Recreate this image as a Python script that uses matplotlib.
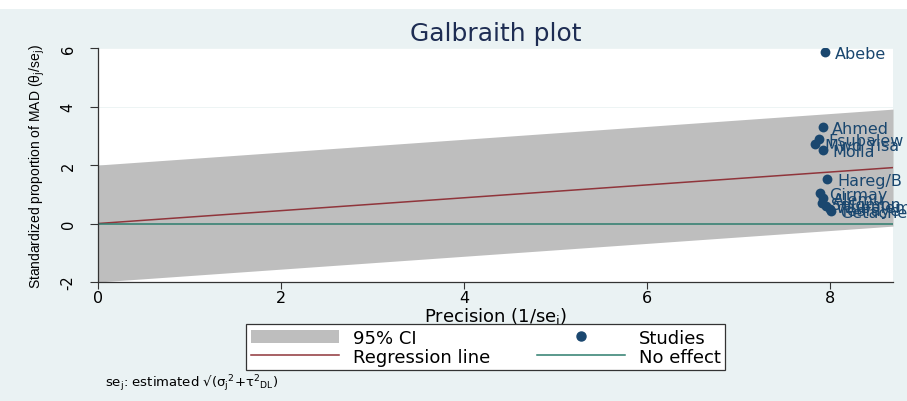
import numpy as np
import matplotlib.pyplot as plt
from matplotlib.patches import Patch, Rectangle
from matplotlib.lines import Line2D

plt.rcParams["axes.unicode_minus"] = False
plt.rcParams["font.family"] = "DejaVu Sans"

# study data
studies = ["Abebe", "Ahmed", "Fsubalew", "Mwd Yisa", "Molla", "Hareg/B",
           "Girmay", "Alemu", "Solomon", "Wubalem", "Tesfaye", "Getachew"]
precision = [7.95, 7.92, 7.88, 7.84, 7.92, 7.97, 7.89, 7.93, 7.91, 7.96, 8.00, 8.01]
z_score = [5.86, 3.30, 2.89, 2.72, 2.51, 1.52, 1.04, 0.87, 0.70, 0.60, 0.50, 0.43]

slope = 0.22      # regression line through origin
band = 2.0        # +/- 2 around the regression line
x_max = 8.69

bg = "#EAF2F3"
navy = "#1A476F"

fig = plt.figure(figsize=(9.07, 4.02), dpi=100, facecolor=bg)
fig.patches.append(Rectangle((0, 0.975), 1, 0.03, transform=fig.transFigure,
                             facecolor="white", edgecolor="none", zorder=-1))
ax = fig.add_axes([0.108, 0.296, 0.9846 - 0.108, 0.878 - 0.296])
ax.set_facecolor("white")

xs = np.array([0, x_max])
ax.fill_between(xs, slope * xs - band, slope * xs + band, color="#BEBEBE", lw=0, zorder=1)
ax.plot(xs, slope * xs, color="#90353B", lw=1.1, zorder=2)
ax.plot(xs, [0, 0], color="#2E7D6E", lw=1.1, zorder=2)
ax.scatter(precision, z_score, s=50, color=navy, zorder=3, linewidths=0)
for name, x, y in zip(studies, precision, z_score):
    ax.annotate(name, (x, y), xytext=(7, -1), textcoords="offset points",
                va="center", ha="left", fontsize=11.5, color=navy,
                annotation_clip=False, zorder=4)

ax.set_xlim(0, x_max)
ax.set_ylim(-2, 6)
ax.set_xticks([0, 2, 4, 6, 8])
ax.set_yticks([-2, 0, 2, 4, 6])
ax.yaxis.grid(True, color=bg, lw=0.6)
ax.set_axisbelow(True)
for s in ["top", "right"]:
    ax.spines[s].set_visible(False)
for s in ["left", "bottom"]:
    ax.spines[s].set_color("#333333")
    ax.spines[s].set_linewidth(0.9)
ax.tick_params(axis="x", colors="#333333", labelcolor="black", labelsize=11.5,
               length=5, width=0.8, pad=1)
ax.tick_params(axis="y", colors="#333333", labelcolor="black", labelsize=10.5,
               length=6, width=0.8, pad=10)
for lab in ax.get_yticklabels():
    lab.set_rotation(90)
    lab.set_va("center")

ax.set_xlabel("Precision (1/se$_\\mathrm{j}$)", fontsize=13, labelpad=0)
ax.set_ylabel("Standardized proportion of MAD (θ$_\\mathrm{j}$/se$_\\mathrm{j}$)", fontsize=10,
              family="Liberation Sans", labelpad=10)
ax.set_title("Galbraith plot", fontsize=18, color="#1E2D53", pad=6)

handles = [Patch(facecolor="#BEBEBE", edgecolor="none"),
           Line2D([], [], color="#90353B", lw=1.1),
           Line2D([], [], marker="o", ls="", color=navy, markersize=6.5),
           Line2D([], [], color="#2E7D6E", lw=1.1)]
labels = ["95% CI", "Regression line", "Studies", "No effect"]
leg = fig.legend(handles, labels, ncol=2, loc="center", bbox_to_anchor=(0.5355, 0.134),
                 frameon=True, fancybox=False, edgecolor="#333333", framealpha=1,
                 handlelength=4.9, handleheight=0.8, columnspacing=2.6, handletextpad=0.75,
                 borderpad=0.25, borderaxespad=0, labelspacing=0.05, prop={"size": 13})
leg.get_frame().set_linewidth(0.9)

fig.text(0.116, 0.036, "se$_\\mathrm{j}$: estimated √(σ$_\\mathrm{j}$$^2$+τ$^2$$_\\mathrm{DL}$)",
         fontsize=9.5)

fig.savefig("out.png", dpi=100, facecolor=bg)
